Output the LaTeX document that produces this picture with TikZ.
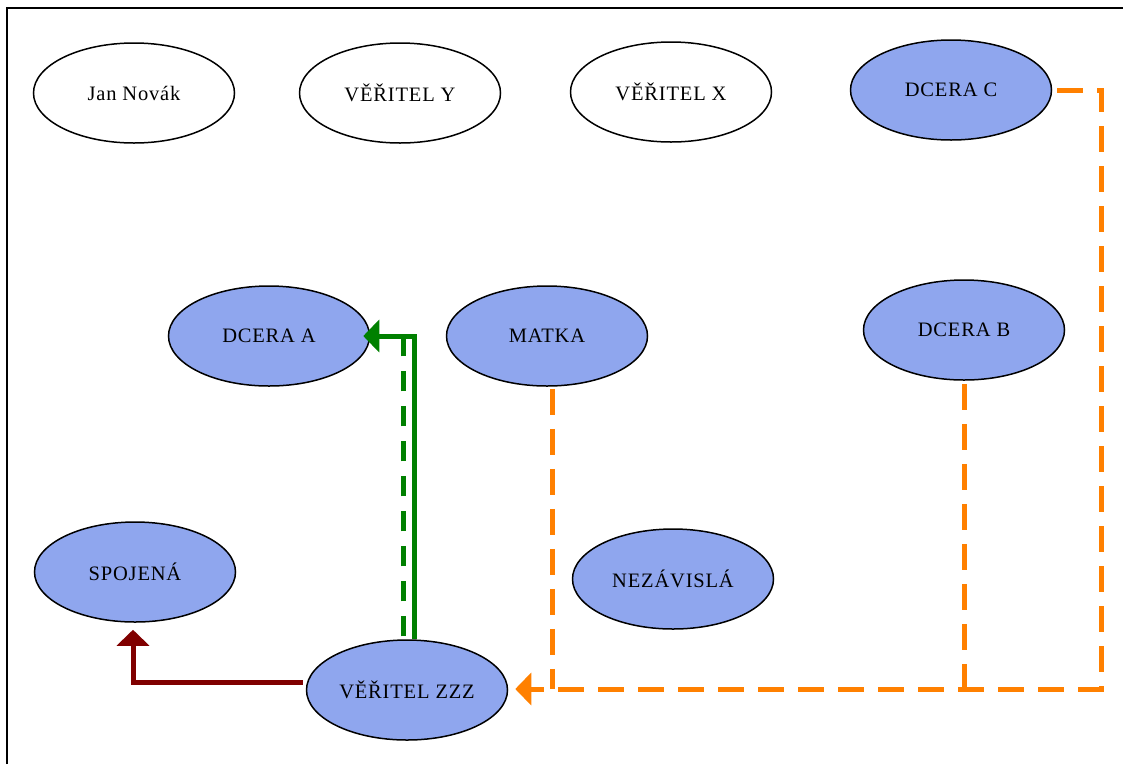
\documentclass[tikz,border=0pt]{standalone}
\usepackage{fontspec}
\setmainfont{Liberation Serif}[LetterSpace=4]
\usetikzlibrary{shapes.geometric,arrows.meta,calc}
\definecolor{ellfill}{RGB}{143,166,238}
\definecolor{orng}{RGB}{255,128,0}
\definecolor{grn}{RGB}{0,128,0}
\definecolor{dred}{RGB}{128,0,0}
\tikzset{
  ell/.style={ellipse, draw=black, line width=1.5pt, minimum width=201pt, minimum height=100pt, inner sep=0pt, font=\fontsize{20.5}{24}\selectfont},
  blue/.style={ell, fill=ellfill},
  white/.style={ell, fill=white},
  conn/.style={line width=5pt, line cap=butt, line join=miter},
  tip/.style={-{Triangle[length=16pt,width=32pt]}},
  odash/.style={conn, orng, dash pattern=on 26pt off 14pt},
  gdash/.style={conn, grn, dash pattern=on 20pt off 15pt}
}
\begin{document}
\begin{tikzpicture}[x=1pt,y=-1pt]
\useasboundingbox (0,0) rectangle (1123,764);
\draw[line width=2pt] (7,764) -- (7,8) -- (1123,8);
\node[white] (jn) at (134,93) {Jan Novák};
\node[white] (vy) at (400,93) {VĚŘITEL Y};
\node[white] (vx) at (671,92) {VĚŘITEL X};
\node[blue] (dc) at (951,90) {DCERA C};
\node[blue] (da) at (269,336) {DCERA A};
\node[blue] (mt) at (547,336) {MATKA};
\node[blue] (db) at (964,330) {DCERA B};
\node[blue] (sp) at (135,572) {SPOJENÁ};
\node[blue] (nz) at (673,579) {NEZÁVISLÁ};
\node[blue] (zz) at (407,690) {VĚŘITEL ZZZ};
% green
\coordinate (gs) at ($(zz.north)+(7,0)$);
\coordinate (gd) at ($(zz.north)+(-4,-3)$);
\coordinate (gdt) at (gd |- da.east);
\draw[gdash] (gd) -- (gdt);
\draw[conn, grn, tip, shorten >=-7pt] (gs) |- (da.east);
% dark red
\coordinate (rs) at ($(zz.west)+(-3,-8)$);
\coordinate (re) at ($(sp.south)+(-2,7)$);
\draw[conn, dred, tip] (rs) -| (re);
% orange
\coordinate (oc) at (1101,90);
\coordinate (ob) at (1101,689);
\coordinate (ms) at ($(mt.south)+(5,2)$);
\coordinate (me) at (ms |- ob);
\coordinate (bs) at ($(db.south)+(0,3)$);
\coordinate (be) at (bs |- ob);
\draw[odash, tip] ($(dc.east)+(5,0)$) -- (oc) -- (ob) -- ($(zz.east)+(7,-1)$);
\draw[odash] (ms) -- (me);
\draw[odash] (bs) -- (be);
\end{tikzpicture}
\end{document}
